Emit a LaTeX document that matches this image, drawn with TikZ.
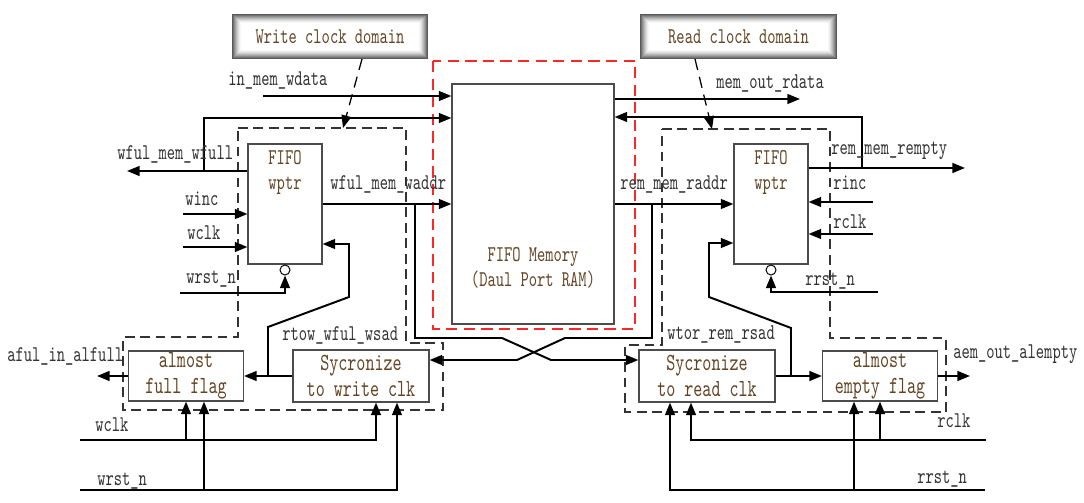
\documentclass[tikz,border=0pt]{standalone}
\usepackage{fontspec}
\newfontfamily\sigfont[FakeStretch=0.7]{lmmono10-regular.otf}
\usetikzlibrary{arrows.meta}
\definecolor{blktext}{RGB}{100,68,36}
\definecolor{sigtext}{RGB}{50,50,50}

\begin{document}
\begin{tikzpicture}[x=0.025cm,y=-0.025cm,
    >={Triangle[length=9pt,width=7pt]},
    wire/.style={line width=1.4pt},
    blk/.style={draw=black!70,line width=0.8pt,inner sep=0pt},
    lbl/.style={font=\sigfont\fontsize{16}{18}\selectfont,text=sigtext,anchor=base west,inner sep=0pt},
    txt/.style={font=\sigfont\fontsize{16}{17.5}\selectfont,text=blktext,align=center,inner sep=0pt},
    bigtxt/.style={font=\sigfont\fontsize{17.5}{18.5}\selectfont,text=blktext,align=center,inner sep=0pt},
    dombox/.style={dash pattern=on 7pt off 4pt,line width=1.1pt,black!80},
    ramline/.style={dash pattern=on 8pt off 4.5pt,line width=1.1pt,red!85},
    domarrow/.style={dash pattern=on 8pt off 5pt,line width=0.9pt},
    bubble/.style={circle,draw,line width=0.7pt,minimum size=0.25cm,inner sep=0pt}]
  \useasboundingbox (0,0) rectangle (1084,503);

  % clock domain tags
  \node[draw,line width=1.5pt,fill=white,minimum width=4.85cm,minimum height=1.075cm] (wdom) at (330,36.5) {};
  \node[draw,line width=1.5pt,fill=white,minimum width=4.875cm,minimum height=1.075cm] (rdom) at (738.5,36.5) {};
  \foreach \d in {wdom,rdom}
    \foreach \i/\c in {1/65,2/55,3/45,4/36,5/28,6/20,7/13,8/7,9/3}
      \draw[black!\c,line width=0.75pt] ([shift={(\i*0.025cm,\i*0.025cm)}]\d.south west) rectangle ([shift={(-\i*0.025cm,-\i*0.025cm)}]\d.north east);
  \node[txt] (wdomtxt) at (wdom) {Write clock domain};
  \node[txt] (rdomtxt) at (rdom) {Read clock domain};

  % domain outlines
  \draw[dombox] (238,128) -- (406,128) -- (406,343) -- (443,343) -- (443,410) -- (123,410) -- (123,337) -- (238,337) -- cycle;
  \draw[dombox] (662,129) -- (830,129) -- (830,338) -- (946,338) -- (946,412) -- (625,412) -- (625,345) -- (662,345) -- cycle;
  \draw[ramline] (433,61) rectangle (635,329);

  \coordinate (wdomtip) at (343,128);
  \coordinate (rdomtip) at (712,129);
  \draw[domarrow,->] (wdom.south -| 362,0) -- (wdomtip);
  \draw[domarrow,->] (rdom.south -| 695,0) -- (rdomtip);

  % blocks
  \node[blk,minimum width=4.05cm,minimum height=6cm] (mem) at (533,204) {};
  \node[txt] (memtxt) at (533,268) {FIFO Memory\\(Daul Port RAM)};
  \node[blk,minimum width=1.85cm,minimum height=3cm] (wfifo) at (285,204) {};
  \node[txt] (wfifotxt) at (285,172.5) {FIFO\\wptr};
  \node[blk,minimum width=1.85cm,minimum height=3cm] (rfifo) at (771,204) {};
  \node[txt] (rfifotxt) at (771,172.5) {FIFO\\wptr};
  \node[bubble] (wbub) at (285,270) {};
  \node[bubble] (rbub) at (771,270) {};
  \node[blk,minimum width=2.875cm,minimum height=1.25cm,bigtxt] (afull) at (186,376) {almost\\full flag};
  \node[blk,minimum width=3.4cm,minimum height=1.3cm,bigtxt] (wsync) at (361,376) {Sycronize\\to write clk};
  \node[blk,minimum width=3.4cm,minimum height=1.3cm,bigtxt] (rsync) at (707,376) {Sycronize\\to read clk};
  \node[blk,minimum width=2.875cm,minimum height=1.25cm,bigtxt] (aempty) at (880,376) {almost\\empty flag};

  % write side
  \coordinate (wdata) at (263,96);
  \draw[wire,->] (wdata) -- (wdata -| mem.west);
  \coordinate (wfullout) at (127,171);
  \coordinate (wfullbr) at (204,171);
  \coordinate (wfulltop) at (204,118);
  \draw[wire,->] (wfullout -| wfifo.west) -- (wfullout);
  \draw[wire,->] (wfullbr) -- (wfulltop) -- (wfulltop -| mem.west);
  \coordinate (winc) at (183,214);
  \coordinate (wclk) at (183,247);
  \coordinate (wrst) at (180,293);
  \draw[wire,->] (winc) -- (winc -| wfifo.west);
  \draw[wire,->] (wclk) -- (wclk -| wfifo.west);
  \draw[wire,->] (wrst) -| (wbub.south);
  \draw[wire,->] (wfifo.east) -- (wfifo.east -| mem.west);
  \coordinate (waddrbr) at (415,204);
  \coordinate (wa1) at (415,338);
  \coordinate (wa2) at (502,338);
  \coordinate (wa3) at (551,360);
  \draw[wire,->] (waddrbr) -- (wa1) -- (wa2) -- (wa3) -- (wa3 -| rsync.west);
  \draw[wire,->] (wsync.west) -- (afull.east);
  \coordinate (wfb1) at (268,376);
  \coordinate (wfb2) at (268,327);
  \coordinate (wfb3) at (349,297);
  \coordinate (wfb4) at (349,244);
  \draw[wire,->] (wfb1) -- (wfb2) -- (wfb3) -- (wfb4) -- (wfb4 -| wfifo.east);
  \coordinate (afulout) at (97,376);
  \draw[wire,->] (afull.west) -- (afulout);
  \coordinate (wclkin) at (80,440);
  \coordinate (wclkend) at (376,440);
  \draw[wire,->] (wclkin) -- (wclkend) -- (wclkend |- wsync.south);
  \draw[wire,->] (afull.south |- wclkin) -- (afull.south);
  \coordinate (wrstin) at (80,490);
  \coordinate (wrstend) at (397,490);
  \coordinate (wrsttap) at (204,490);
  \draw[wire,->] (wrstin) -- (wrstend) -- (wrstend |- wsync.south);
  \draw[wire,->] (wrsttap) -- (wrsttap |- afull.south);

  % read side
  \coordinate (rdataout) at (800,99);
  \draw[wire,->] (mem.east |- rdataout) -- (rdataout);
  \coordinate (remptyout) at (965,168);
  \coordinate (remptybr) at (862,168);
  \coordinate (remptytop) at (862,117);
  \draw[wire,->] (rfifo.east |- remptyout) -- (remptyout);
  \draw[wire,->] (remptybr) -- (remptytop) -- (remptytop -| mem.east);
  \coordinate (rinc) at (873,202);
  \coordinate (rclk) at (873,234);
  \coordinate (rrst) at (878,292);
  \draw[wire,->] (rinc) -- (rinc -| rfifo.east);
  \draw[wire,->] (rclk) -- (rclk -| rfifo.east);
  \draw[wire,->] (rrst) -| (rbub.south);
  \draw[wire,->] (mem.east) -- (rfifo.west);
  \coordinate (raddrbr) at (652,204);
  \coordinate (ra1) at (652,338);
  \coordinate (ra2) at (565,338);
  \coordinate (ra3) at (517,360);
  \draw[wire,->] (raddrbr) -- (ra1) -- (ra2) -- (ra3) -- (ra3 -| wsync.east);
  \draw[wire,->] (rsync.east) -- (aempty.west);
  \coordinate (rfb1) at (791,376);
  \coordinate (rfb2) at (791,328);
  \coordinate (rfb3) at (709,297);
  \coordinate (rfb4) at (709,243);
  \draw[wire,->] (rfb1) -- (rfb2) -- (rfb3) -- (rfb4) -- (rfb4 -| rfifo.west);
  \coordinate (aemout) at (970,376);
  \draw[wire,->] (aempty.east) -- (aemout);
  \coordinate (rclkin) at (986,440);
  \coordinate (rclkend) at (691,440);
  \draw[wire,->] (rclkin) -- (rclkend) -- (rclkend |- rsync.south);
  \draw[wire,->] (aempty.south |- rclkin) -- (aempty.south);
  \coordinate (rrstin) at (985,490);
  \coordinate (rrstend) at (670,490);
  \coordinate (rrsttap) at (854,490);
  \draw[wire,->] (rrstin) -- (rrstend) -- (rrstend |- rsync.south);
  \draw[wire,->] (rrsttap) -- (rrsttap |- aempty.south);

  % signal names
  \node[lbl] (l1) at (228,86) {in\_mem\_wdata};
  \node[lbl] (l2) at (117,160) {wful\_mem\_wfull};
  \node[lbl] (l3) at (185,206) {winc};
  \node[lbl] (l4) at (187,240) {wclk};
  \node[lbl] (l5) at (186,284) {wrst\_n};
  \node[lbl] (l6) at (330,190) {wful\_mem\_waddr};
  \node[lbl] (l7) at (282,341) {rtow\_wful\_wsad};
  \node[lbl] (l8) at (7,362) {aful\_in\_alfull};
  \node[lbl] (l9) at (95,432) {wclk};
  \node[lbl] (l10) at (97,486) {wrst\_n};
  \node[lbl] (l11) at (716,89) {mem\_out\_rdata};
  \node[lbl] (l12) at (831,155) {rem\_mem\_rempty};
  \node[lbl] (l13) at (833,190) {rinc};
  \node[lbl] (l14) at (833,229) {rclk};
  \node[lbl] (l15) at (805,286) {rrst\_n};
  \node[lbl] (l16) at (620,190) {rem\_mem\_raddr};
  \node[lbl] (l17) at (667,340) {wtor\_rem\_rsad};
  \node[lbl] (l18) at (953,359) {aem\_out\_alempty};
  \node[lbl] (l19) at (937,428) {rclk};
  \node[lbl] (l20) at (917,484) {rrst\_n};
\end{tikzpicture}
\end{document}
